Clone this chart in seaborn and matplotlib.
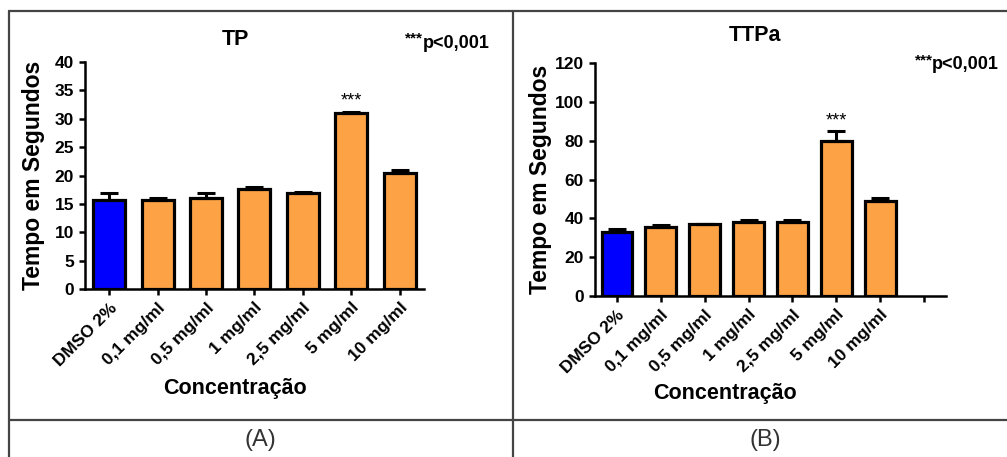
import numpy as np
import matplotlib.pyplot as plt
from matplotlib.lines import Line2D
import seaborn as sns

# data
categorias = ["DMSO 2%", "0,1 mg/ml", "0,5 mg/ml", "1 mg/ml", "2,5 mg/ml", "5 mg/ml", "10 mg/ml"]
tp_media = [15.7, 15.6, 16.0, 17.6, 16.9, 31.0, 20.5]
tp_erro = [1.2, 0.4, 0.9, 0.4, 0.15, 0.15, 0.5]
ttpa_media = [33.0, 35.5, 37.1, 38.3, 38.0, 79.9, 49.0]
ttpa_erro = [1.3, 0.9, 0.2, 0.9, 1.0, 5.0, 1.5]
cores = ["#0000FF"] + ["#FDA345"] * 6

sns.set_style("ticks")
plt.rcParams['font.family'] = ['Liberation Sans', 'DejaVu Sans']
plt.rcParams.update({'axes.linewidth': 1.8, 'text.color': 'black', 'axes.labelcolor': 'black',
                     'xtick.color': 'black', 'ytick.color': 'black', 'axes.edgecolor': 'black'})

fig = plt.figure(figsize=(10.07, 4.57), dpi=100)
ax1 = fig.add_axes([0.0844, 0.3676, 0.3366, 0.4967])
ax2 = fig.add_axes([0.5909, 0.3523, 0.3485, 0.5098])


def painel(ax, medias, erros, ordem, largura, ymax, passo, estrela_off):
    sns.barplot(x=categorias, y=medias, hue=categorias, palette=cores, order=ordem,
                legend=False, errorbar=None, width=largura, edgecolor="black",
                linewidth=2.3, saturation=1, ax=ax)
    xs = np.arange(len(categorias))
    ax.errorbar(xs, medias, yerr=[np.zeros(len(erros)), erros], fmt="none",
                ecolor="black", elinewidth=2.2, capsize=6.5, capthick=2.2, zorder=1)
    ax.set_ylim(0, ymax)
    ax.set_yticks(np.arange(0, ymax + 1, passo))
    ax.set_xlim(-0.5, len(ordem) - 0.5)
    ax.tick_params(axis="both", direction="out", length=4.5, width=1.8, labelsize=12.5)
    for t in ax.get_yticklabels():
        t.set_fontweight("bold")
    ax.set_xticks(range(len(ordem)))
    ax.set_xticklabels(ordem, rotation=45, ha="right", rotation_mode="anchor",
                       fontweight="bold", fontsize=12.5)
    sns.despine(ax=ax)
    ax.set_ylabel("Tempo em Segundos", fontsize=16.5, fontweight="bold")
    ax.set_xlabel("Concentração", fontsize=15.5, fontweight="bold")
    ax.text(5, medias[5] + erros[5] + estrela_off, "***", ha="center", va="bottom", fontsize=13)


painel(ax1, tp_media, tp_erro, categorias, 0.66, 40, 5, 0.5)
painel(ax2, ttpa_media, ttpa_erro, categorias + [""], 0.7, 120, 20, 1.0)

ax1.yaxis.set_label_coords(-0.118, 0.5)
ax2.yaxis.set_label_coords(-0.122, 0.5)
ax1.xaxis.set_label_coords(0.442, -0.392)
ax2.xaxis.set_label_coords(0.37, -0.373)

# titles and notes
fig.text(0.2334, 0.9125, "TP", ha="center", va="center", fontsize=15.5, fontweight="bold")
fig.text(0.7497, 0.923, "TTPa", ha="center", va="center", fontsize=15.5, fontweight="bold")
fig.text(0.4205, 0.915, "***", ha="right", va="center", fontsize=11, fontweight="bold")
fig.text(0.4195, 0.905, "p<0,001", ha="left", va="center", fontsize=13, fontweight="bold")
fig.text(0.9265, 0.868, "***", ha="right", va="center", fontsize=11, fontweight="bold")
fig.text(0.9255, 0.858, "p<0,001", ha="left", va="center", fontsize=13, fontweight="bold")
fig.text(0.259, 0.037, "(A)", ha="center", va="center", fontsize=17, color="#333333")
fig.text(0.760, 0.037, "(B)", ha="center", va="center", fontsize=17, color="#333333")

# table frame
cor_linha = "#444444"
fig.add_artist(Line2D([0.0089, 1.0], [0.9759, 0.9759], color=cor_linha, lw=1.6))
fig.add_artist(Line2D([0.0089, 1.0], [0.081, 0.081], color=cor_linha, lw=1.6))
fig.add_artist(Line2D([0.0089, 0.0089], [0.0, 0.9759], color=cor_linha, lw=1.6))
fig.add_artist(Line2D([0.5094, 0.5094], [0.0, 0.9759], color=cor_linha, lw=1.6))

fig.savefig("out.png", dpi=100)
